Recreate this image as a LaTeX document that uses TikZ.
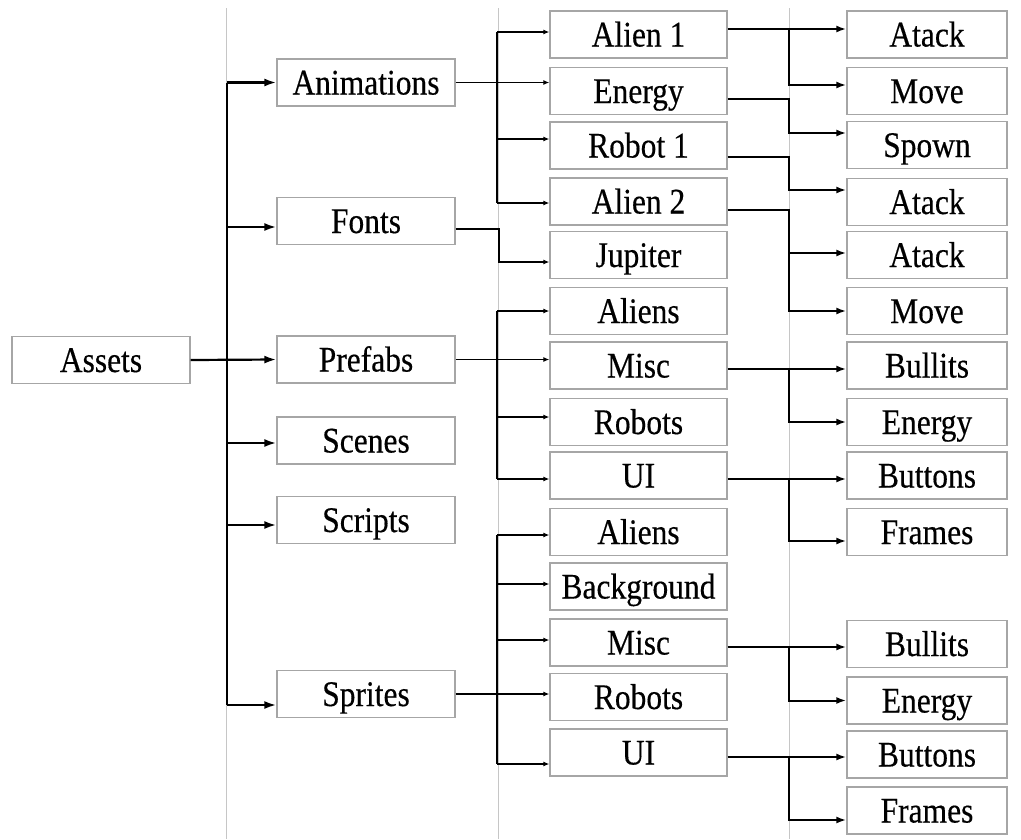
\documentclass[tikz,border=0pt]{standalone}
\usepackage{fontspec}
\setmainfont{Liberation Serif}[FakeStretch=0.875,FakeBold=0.35]
\usetikzlibrary{arrows.meta,calc}
\begin{document}
\begin{tikzpicture}[x=1pt,y=-1pt,
  box/.style={draw=gray!70, line width=1.3pt, minimum height=47pt, inner sep=0pt,
    text height=24pt, text depth=0pt, font=\fontsize{36}{40}\selectfont, anchor=center},
  w1/.style={box, minimum width=178pt},
  w2/.style={box, minimum width=177pt},
  w3/.style={box, minimum width=160pt},
  sep/.style={draw=gray!45, line width=0.9pt},
  bus0/.style={line width=2.2pt},
  a0/.style={line width=2.2pt, -{Latex[length=12pt,width=8pt]}},
  bus1/.style={line width=1.6pt},
  a1/.style={line width=1.6pt, -{Latex[length=6pt,width=5pt]}},
  bus2/.style={line width=2pt},
  a2/.style={line width=2pt, -{Latex[length=10pt,width=7pt]}}
]
\useasboundingbox (0,0) rectangle (1021,839);
\fill[white] (0,0) rectangle (1021,839);
% separators
\draw[sep] (226,8) -- (226,839);
\draw[sep] (498,8) -- (498,839);
\draw[sep] (789,8) -- (789,839);
\coordinate (b1) at (227,0);
\coordinate (b2) at (497,0);
\coordinate (b3) at (789,0);
% level 0
\node[w1] (assets) at (101,360) {Assets};
% level 1
\node[w1] (anim) at (366,82.5) {Animations};
\node[w1] (fonts) at (366,221) {Fonts};
\node[w1] (prefabs) at (366,359.5) {Prefabs};
\node[w1] (scenes) at (366,440.5) {Scenes};
\node[w1] (scripts) at (366,520) {Scripts};
\node[w1] (sprites) at (366,694) {Sprites};
% level 2
\node[w2] (alienA) at (638.5,34.5) {Alien 1};
\node[w2] (energyA) at (638.5,91) {Energy};
\node[w2] (robotA) at (638.5,145.5) {Robot 1};
\node[w2] (alienB) at (638.5,201.5) {Alien 2};
\node[w2] (jupiter) at (638.5,255) {Jupiter};
\node[w2] (aliensP) at (638.5,311) {Aliens};
\node[w2] (miscP) at (638.5,365.5) {Misc};
\node[w2] (robotsP) at (638.5,422) {Robots};
\node[w2] (uiP) at (638.5,475.5) {UI};
\node[w2] (aliensS) at (638.5,532) {Aliens};
\node[w2] (bgS) at (638.5,586.5) {Background};
\node[w2] (miscS) at (638.5,642.5) {Misc};
\node[w2] (robotsS) at (638.5,697) {Robots};
\node[w2] (uiS) at (638.5,752.5) {UI};
% level 3
\node[w3] (atkA) at (927,34.5) {Atack};
\node[w3] (movA) at (927,91) {Move};
\node[w3] (spown) at (927,145) {Spown};
\node[w3] (atkR) at (927,202) {Atack};
\node[w3] (atkB) at (927,255) {Atack};
\node[w3] (movB) at (927,311) {Move};
\node[w3] (bulP) at (927,365.5) {Bullits};
\node[w3] (enP) at (927,422) {Energy};
\node[w3] (butP) at (927,475.5) {Buttons};
\node[w3] (frP) at (927,532) {Frames};
\node[w3] (bulS) at (927,644) {Bullits};
\node[w3] (enS) at (927,700.5) {Energy};
\node[w3] (butS) at (927,754.5) {Buttons};
\node[w3] (frS) at (927,810.5) {Frames};

% ---- level 0 -> 1
\coordinate (fontIn) at ([yshift=-6pt]fonts.west);
\coordinate (scIn) at ([yshift=-2.5pt]scenes.west);
\coordinate (scrIn) at ([yshift=-5pt]scripts.west);
\coordinate (sprIn) at ([yshift=-11pt]sprites.west);
\draw[bus0] (b1 |- anim.west) -- (b1 |- sprIn);
\draw[a0] (assets.east) -- (prefabs.west);
\draw[a0] (b1 |- anim.west) -- (anim.west);
\draw[a0] (b1 |- fontIn) -- (fontIn);
\draw[a0] (b1 |- scIn) -- (scIn);
\draw[a0] (b1 |- scrIn) -- (scrIn);
\draw[a0] (b1 |- sprIn) -- (sprIn);

% ---- level 1 -> 2 : Animations
\coordinate (a1In) at ([yshift=2.5pt]alienA.west);
\coordinate (r1In) at ([yshift=6.5pt]robotA.west);
\coordinate (a2In) at ([yshift=-1.5pt]alienB.west);
\draw[bus1] (b2 |- a1In) -- (b2 |- a2In);
\draw[a1] (anim.east) -- (energyA.west |- anim.east);
\draw[a1] (b2 |- a1In) -- (a1In);
\draw[a1] (b2 |- r1In) -- (r1In);
\draw[a1] (b2 |- a2In) -- (a2In);
% Fonts
\coordinate (fOut) at ([yshift=-8pt]fonts.east);
\coordinate (jIn) at ([yshift=-7pt]jupiter.west);
\draw[a1] (fOut) -- ($(b2 |- fOut)+(2,0)$) |- (jIn);
% Prefabs
\coordinate (rpIn) at ([yshift=5pt]robotsP.west);
\coordinate (upIn) at ([yshift=-3.5pt]uiP.west);
\draw[bus1] (b2 |- aliensP.west) -- (b2 |- upIn);
\draw[a1] (prefabs.east) -- (miscP.west |- prefabs.east);
\draw[a1] (b2 |- aliensP.west) -- (aliensP.west);
\draw[a1] (b2 |- rpIn) -- (rpIn);
\draw[a1] (b2 |- upIn) -- (upIn);
% Sprites
\coordinate (asIn) at ([yshift=-3pt]aliensS.west);
\coordinate (bgIn) at ([yshift=2.5pt]bgS.west);
\coordinate (msIn) at ([yshift=2.5pt]miscS.west);
\coordinate (usIn) at ([yshift=-11.5pt]uiS.west);
\draw[bus1] (b2 |- asIn) -- (b2 |- usIn);
\draw[a1] (sprites.east) -- (robotsS.west |- sprites.east);
\draw[a1] (b2 |- asIn) -- (asIn);
\draw[a1] (b2 |- bgIn) -- (bgIn);
\draw[a1] (b2 |- msIn) -- (msIn);
\draw[a1] (b2 |- usIn) -- (usIn);

% ---- level 2 -> 3
% Alien 1
\coordinate (o1) at ([yshift=5.5pt]alienA.east);
\coordinate (mAIn) at ([yshift=6pt]movA.west);
\draw[a2] (o1) -- (atkA.west |- o1);
\draw[a2] (b3 |- o1) |- (mAIn);
% Energy
\coordinate (o2) at ([yshift=-8pt]energyA.east);
\coordinate (spIn) at ([yshift=12pt]spown.west);
\draw[a2] (o2) -- (b3 |- o2) |- (spIn);
% Robot 1
\coordinate (o3) at ([yshift=-11.5pt]robotA.east);
\coordinate (arIn) at ([yshift=12pt]atkR.west);
\draw[a2] (o3) -- (b3 |- o3) |- (arIn);
% Alien 2
\coordinate (o4) at ([yshift=-8.5pt]alienB.east);
\coordinate (abIn) at ([yshift=2pt]atkB.west);
\draw[a2] (o4) -- (b3 |- o4) |- (movB.west);
\draw[a2] (b3 |- abIn) -- (abIn);
% Misc (prefabs)
\coordinate (o5) at ([yshift=-3.5pt]miscP.east);
\draw[a2] (o5) -- (bulP.west |- o5);
\draw[a2] (b3 |- o5) |- (enP.west);
% UI (prefabs)
\coordinate (o6) at ([yshift=-3.5pt]uiP.east);
\coordinate (fpIn) at ([yshift=-9pt]frP.west);
\draw[a2] (o6) -- (butP.west |- o6);
\draw[a2] (b3 |- o6) |- (fpIn);
% Misc (sprites)
\coordinate (o7) at ([yshift=-4.5pt]miscS.east);
\draw[a2] (o7) -- (bulS.west |- o7);
\draw[a2] (b3 |- o7) |- (enS.west);
% UI (sprites)
\coordinate (o8) at ([yshift=-4.5pt]uiS.east);
\coordinate (fsIn) at ([yshift=-9.5pt]frS.west);
\draw[a2] (o8) -- (butS.west |- o8);
\draw[a2] (b3 |- o8) |- (fsIn);
\end{tikzpicture}
\end{document}
